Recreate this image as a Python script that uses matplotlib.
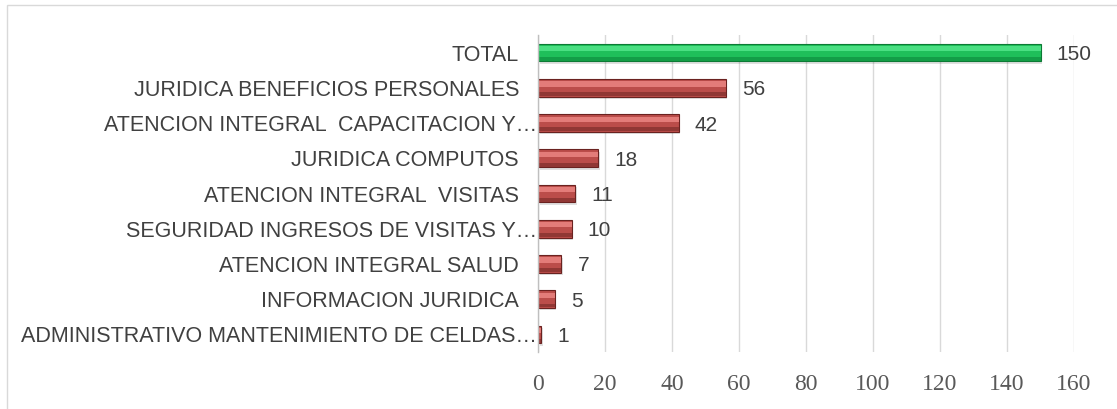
import matplotlib.pyplot as plt
import matplotlib.patches as mpatches
import matplotlib.transforms as mtransforms
import numpy as np

# Data (top to bottom)
categories = ['TOTAL',
              'JURIDICA BENEFICIOS PERSONALES',
              'ATENCION INTEGRAL  CAPACITACION Y…',
              'JURIDICA COMPUTOS',
              'ATENCION INTEGRAL  VISITAS',
              'SEGURIDAD INGRESOS DE VISITAS Y…',
              'ATENCION INTEGRAL SALUD',
              'INFORMACION JURIDICA',
              'ADMINISTRATIVO MANTENIMIENTO DE CELDAS…']
values = [150, 56, 42, 18, 11, 10, 7, 5, 1]
xticks = [0, 20, 40, 60, 80, 100, 120, 140, 160]

W, H = 1117, 409
fig = plt.figure(figsize=(W / 100, H / 100), dpi=100)

# outer chart border
fig.patches.append(mpatches.Rectangle((7 / W, -0.1), 1.2, 1 - 5 / H + 0.1,
                                      transform=fig.transFigure, fill=False,
                                      edgecolor='#d9d9d9', linewidth=1))

ax = fig.add_axes([538 / W, 1 - 352 / H, (1074 - 538) / W, (352 - 35) / H])

y = np.arange(len(categories))
h = 0.5
for i, v in enumerate(values):
    if i == 0:
        base, light, dark, edge = '#1fbf5a', '#4fe387', '#129a45', '#0c7a35'
    else:
        base, light, dark, edge = '#bb4d4a', '#e8827f', '#8c3532', '#6a2220'
    # shadow
    ax.barh(y[i] + 0.07, v, height=h, left=0.5, color='#000000', alpha=0.12,
            zorder=2)
    ax.barh(y[i], v, height=h, color=base, edgecolor=edge, linewidth=0.8,
            zorder=3)
    # bevel: light upper band, dark lower band
    ax.barh(y[i] - h * 0.22, v, height=h * 0.3, color=light, linewidth=0,
            zorder=4, alpha=0.9)
    ax.barh(y[i] + h * 0.36, v, height=h * 0.22, color=dark, linewidth=0,
            zorder=4, alpha=0.9)
    ax.text(v + 4.8, y[i], str(v), va='center_baseline', ha='left',
            fontsize=15, color='#404040', family='Liberation Sans')

# category labels: truncated ones run right up to the axis
trans = ax.get_yaxis_transform()
for i, lab in enumerate(categories):
    gap = -1 if lab.endswith('…') else -19
    t = mtransforms.offset_copy(trans, fig=fig, x=gap, y=0, units='dots')
    ax.text(0, y[i], lab, transform=t, ha='right', va='center_baseline',
            fontsize=15.5, color='#404040', family='Liberation Sans')

ax.set_xlim(0, 160)
ax.set_ylim(len(categories) - 0.5, -0.5)
ax.set_xticks(xticks)
ax.set_xticklabels([str(t) for t in xticks], family='Liberation Serif',
                   fontsize=17, color='#595959')
ax.set_yticks([])
ax.tick_params(axis='both', length=0)
ax.tick_params(axis='x', pad=16)
ax.xaxis.grid(True, color='#d9d9d9', linewidth=1)
ax.set_axisbelow(True)
for s in ['top', 'right', 'bottom']:
    ax.spines[s].set_visible(False)
ax.spines['left'].set_color('#bfbfbf')
ax.spines['left'].set_linewidth(1)
ax.spines['left'].set_zorder(5)

fig.savefig('out.png', dpi=100)
